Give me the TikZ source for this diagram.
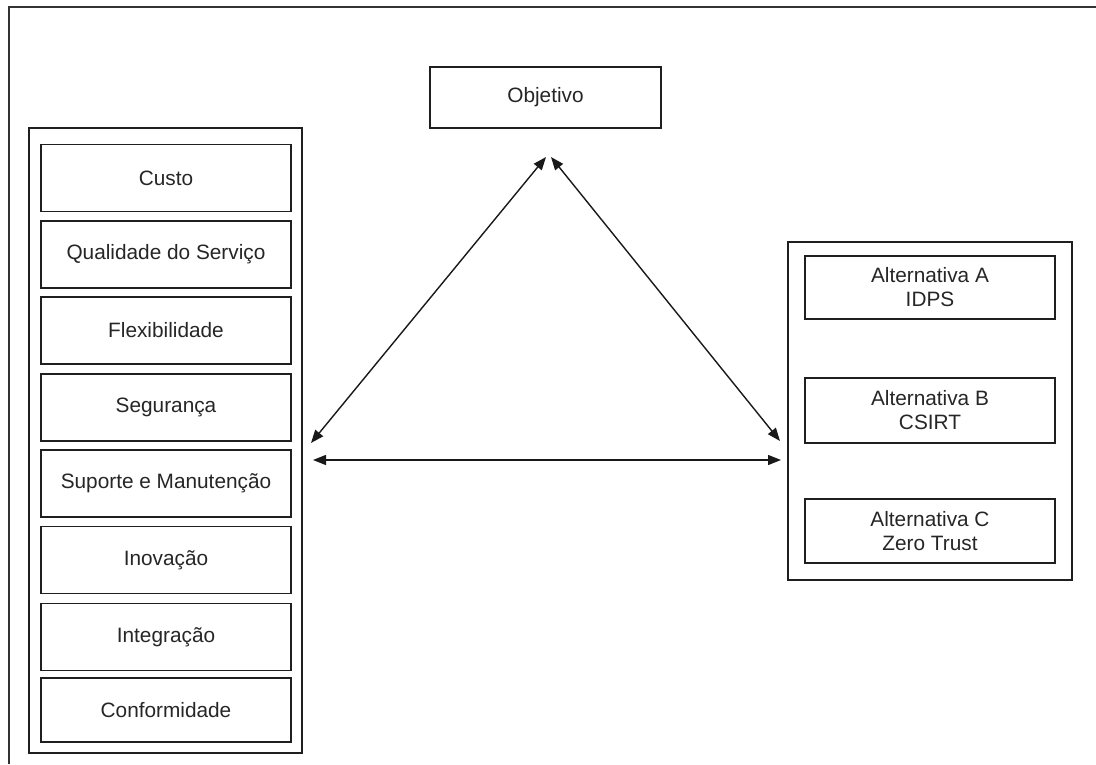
\documentclass[tikz,border=0pt]{standalone}
\usepackage{fontspec}
\setmainfont{Liberation Sans}
\usetikzlibrary{arrows.meta}
\begin{document}
\begin{tikzpicture}[x=1pt,y=-1pt,
  ink/.style={draw=black!88, line width=1.9pt},
  box/.style={ink, fill=white, inner sep=0pt, align=center,
    font=\fontsize{20.8}{24}\selectfont, text=black!85},
  crit/.style={box, minimum width=250pt, minimum height=67pt},
  alt/.style={box, minimum width=250pt, minimum height=64pt},
  holder/.style={ink, inner sep=0pt},
  link/.style={draw=black!90, line width=1.4pt,
    {Triangle[length=13pt,width=10pt]}-{Triangle[length=13pt,width=10pt]}}
]
\useasboundingbox (0,0) rectangle (1096,764);
\fill[white] (0,0) rectangle (1096,764);

% page frame (left and top edges only)
\draw[draw=black!80, line width=1.6pt] (9,764) -- (9,7) -- (1096,7);

% goal
\node[box, minimum width=231pt, minimum height=61pt] (obj) at (545.5,97.5) {Objetivo};

% criteria
\node[holder, minimum width=273pt, minimum height=625pt] (crits) at (165.5,440.5) {};
\node[crit] (c1) at (166,178) {Custo};
\node[crit] (c2) at (166,254.5) {Qualidade do Serviço};
\node[crit] (c3) at (166,330.5) {Flexibilidade};
\node[crit] (c4) at (166,407.5) {Segurança};
\node[crit] (c5) at (166,483.5) {Suporte e Manutenção};
\node[crit] (c6) at (166,560) {Inovação};
\node[crit] (c7) at (166,637) {Integração};
\node[crit, minimum height=64pt] (c8) at (166,710) {Conformidade};

% alternatives
\node[holder, minimum width=284pt, minimum height=338pt] (alts) at (930,411) {};
\node[alt, minimum height=63pt] (a1) at (930,287.5) {Alternativa A\\IDPS};
\node[alt, minimum height=65pt] (a2) at (930,410.5) {Alternativa B\\CSIRT};
\node[alt] (a3) at (930,531) {Alternativa C\\Zero Trust};

% connector ends
\coordinate (apexL) at (546,157);
\coordinate (apexR) at (551,157);
\coordinate (critD) at (311,443);
\coordinate (critH) at (313,460);
\coordinate (altD) at (780,441);
\coordinate (altH) at (781,460);

\draw[link] (apexL) -- (critD);
\draw[link] (apexR) -- (altD);
\draw[link] (critH) -- (altH);
\end{tikzpicture}
\end{document}
